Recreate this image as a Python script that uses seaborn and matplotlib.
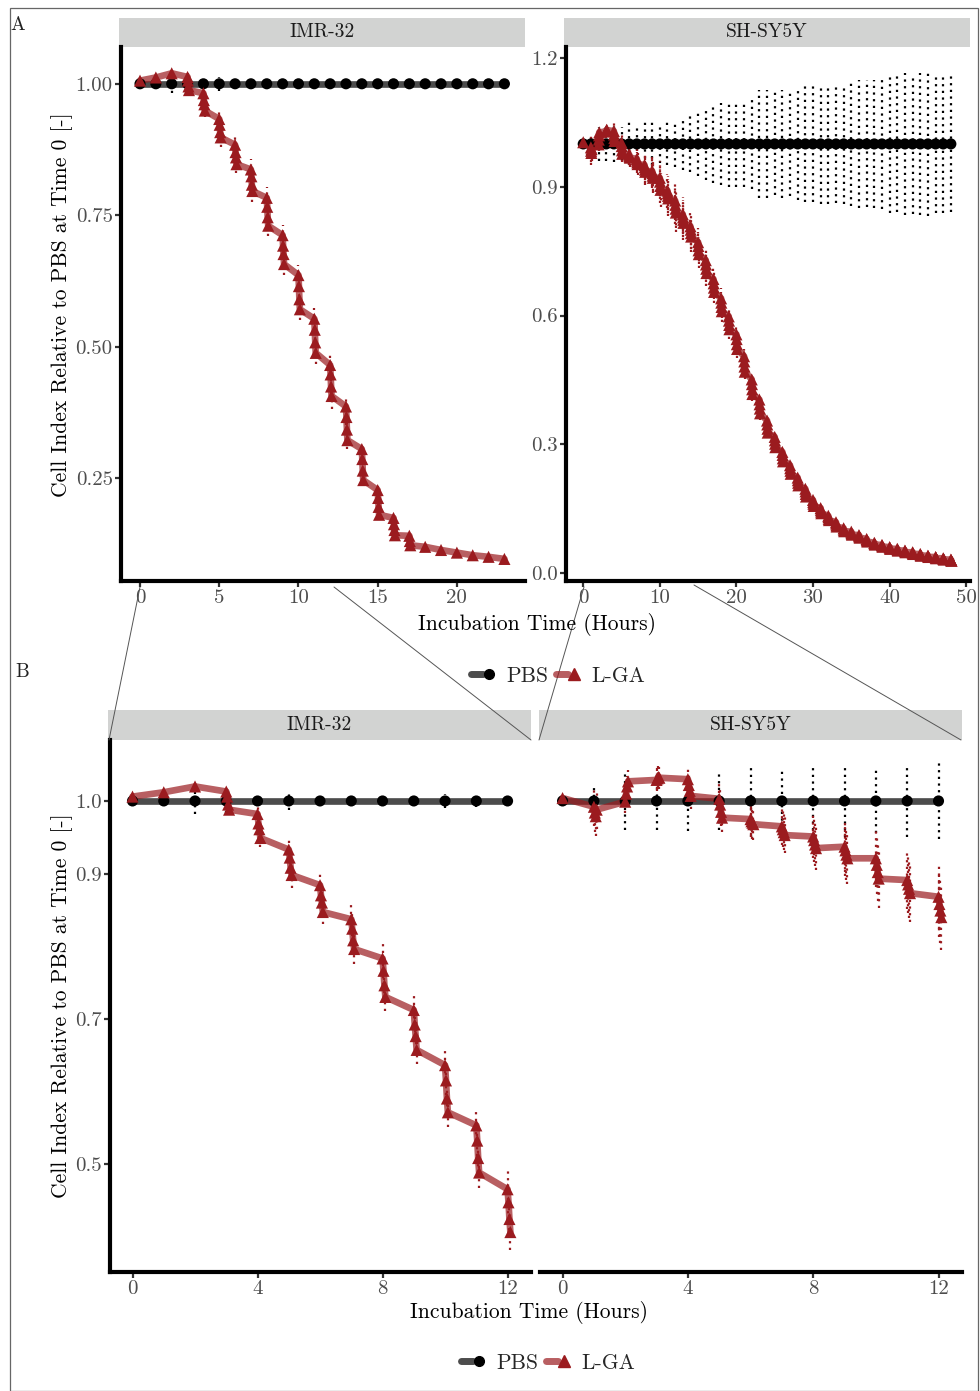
import numpy as np
import pandas as pd
import matplotlib
matplotlib.use("Agg")
import matplotlib.pyplot as plt
import seaborn as sns
from matplotlib.lines import Line2D
from matplotlib.patches import Rectangle
from matplotlib.legend_handler import HandlerTuple

# ---------------------------------------------------------------------------
# Cell index (relative to PBS at time 0); several sweeps are recorded per hour
# ---------------------------------------------------------------------------
imr_hours = list(range(24))
imr_lga = [
    [1.006], [1.012], [1.020],
    [1.013, 1.006, 0.995, 0.988],
    [0.982, 0.969, 0.961, 0.949],
    [0.933, 0.922, 0.908, 0.898],
    [0.884, 0.870, 0.860, 0.847],
    [0.837, 0.824, 0.808, 0.796],
    [0.783, 0.766, 0.746, 0.730],
    [0.712, 0.692, 0.676, 0.657],
    [0.636, 0.615, 0.590, 0.571],
    [0.553, 0.532, 0.508, 0.488],
    [0.465, 0.447, 0.424, 0.406],
    [0.386, 0.366, 0.342, 0.322],
    [0.305, 0.286, 0.264, 0.246],
    [0.227, 0.212, 0.195, 0.180],
    [0.174, 0.162, 0.151, 0.141],
    [0.140, 0.130, 0.122],
    [0.119], [0.113], [0.108], [0.103], [0.100], [0.096],
]
imr_lga_sd = [0.002, 0.004, 0.005, 0.008, 0.012, 0.018, 0.016, 0.020,
              0.020, 0.020, 0.020, 0.021, 0.025, 0.016, 0.011, 0.008,
              0.006, 0.005, 0.003, 0.003, 0.003, 0.002, 0.002, 0.002]
imr_pbs = [1.00, 1.00, 1.00, 1.00, 1.00, 1.00, 1.00, 1.00, 1.00, 1.00, 1.00, 1.00,
           1.00, 1.00, 1.00, 1.00, 1.00, 1.00, 1.00, 1.00, 1.00, 1.00, 1.00, 1.00]
imr_pbs_sd = [0.003, 0.005, 0.018, 0.017, 0.006, 0.013, 0.004, 0.003,
              0.002, 0.004, 0.010, 0.008, 0.003, 0.004, 0.006, 0.008,
              0.007, 0.008, 0.004, 0.006, 0.005, 0.006, 0.004, 0.004]

shsy_hours = list(range(49))
shsy_lga = [
    [1.004],
    [0.992, 0.984, 0.979, 0.988],
    [0.999, 1.010, 1.020, 1.027],
    [1.029, 1.031, 1.033, 1.032],
    [1.030, 1.022, 1.014, 1.007],
    [1.003, 0.995, 0.985, 0.977],
    [0.975, 0.972, 0.970, 0.968],
    [0.965, 0.961, 0.957, 0.953],
    [0.951, 0.946, 0.940, 0.935],
    [0.937, 0.932, 0.926, 0.921],
    [0.921, 0.912, 0.902, 0.893],
    [0.891, 0.885, 0.879, 0.873],
    [0.868, 0.858, 0.849, 0.840],
    [0.836, 0.829, 0.823, 0.816],
    [0.808, 0.800, 0.792, 0.784],
    [0.771, 0.762, 0.752, 0.743],
    [0.729, 0.719, 0.709, 0.699],
    [0.685, 0.675, 0.665, 0.655],
    [0.640, 0.630, 0.620, 0.610],
    [0.598, 0.588, 0.578, 0.568],
    [0.556, 0.545, 0.533, 0.522],
    [0.505, 0.493, 0.481, 0.469],
    [0.451, 0.440, 0.428, 0.417],
    [0.404, 0.393, 0.383, 0.372],
    [0.355, 0.346, 0.336, 0.327],
    [0.317, 0.309, 0.301, 0.293],
    [0.282, 0.275, 0.267, 0.260],
    [0.251, 0.244, 0.238, 0.231],
    [0.222, 0.216, 0.210, 0.204],
    [0.196, 0.190, 0.184, 0.178],
    [0.170, 0.165, 0.161, 0.156],
    [0.151, 0.147, 0.143, 0.139],
    [0.133, 0.130, 0.126, 0.123],
    [0.118, 0.115, 0.111, 0.108],
    [0.104, 0.101, 0.099, 0.097],
    [0.096, 0.093, 0.091, 0.089],
    [0.088, 0.086, 0.084, 0.082],
    [0.079, 0.077, 0.075, 0.073],
    [0.070, 0.069, 0.067, 0.066],
    [0.065, 0.064, 0.062, 0.061],
    [0.060, 0.059, 0.057, 0.056],
    [0.056, 0.055, 0.053, 0.052],
    [0.052, 0.051, 0.049, 0.048],
    [0.048, 0.047, 0.045, 0.044],
    [0.044, 0.043, 0.041, 0.040],
    [0.040, 0.039, 0.038, 0.037],
    [0.037, 0.036, 0.035, 0.034],
    [0.034, 0.033, 0.032, 0.031],
    [0.031, 0.030, 0.029, 0.028],
]
shsy_lga_sd = [0.003, 0.027, 0.015, 0.015, 0.018, 0.020, 0.022, 0.025, 0.030, 0.035,
               0.040, 0.040, 0.045, 0.040, 0.036, 0.032, 0.030, 0.027, 0.025, 0.022,
               0.020, 0.018, 0.016, 0.015, 0.013, 0.012, 0.011, 0.010, 0.009, 0.008,
               0.007, 0.006, 0.006, 0.005, 0.005, 0.004, 0.004, 0.004, 0.003, 0.003,
               0.003, 0.003, 0.003, 0.002, 0.002, 0.002, 0.002, 0.002, 0.002]
shsy_pbs = [1.00, 1.00, 1.00, 1.00, 1.00, 1.00, 1.00, 1.00, 1.00, 1.00,
            1.00, 1.00, 1.00, 1.00, 1.00, 1.00, 1.00, 1.00, 1.00, 1.00,
            1.00, 1.00, 1.00, 1.00, 1.00, 1.00, 1.00, 1.00, 1.00, 1.00,
            1.00, 1.00, 1.00, 1.00, 1.00, 1.00, 1.00, 1.00, 1.00, 1.00,
            1.00, 1.00, 1.00, 1.00, 1.00, 1.00, 1.00, 1.00, 1.00]
shsy_pbs_sd = [0.004, 0.022, 0.040, 0.040, 0.041, 0.040, 0.050, 0.046, 0.050, 0.050,
               0.044, 0.050, 0.053, 0.060, 0.065, 0.075, 0.085, 0.090, 0.095, 0.100,
               0.100, 0.100, 0.105, 0.125, 0.125, 0.120, 0.125, 0.122, 0.130, 0.135,
               0.135, 0.140, 0.140, 0.138, 0.140, 0.145, 0.150, 0.148, 0.150, 0.152,
               0.160, 0.158, 0.165, 0.163, 0.165, 0.167, 0.160, 0.160, 0.158]

SWEEP_STEP = 0.03   # hours between consecutive sweeps within one hour


def long_table(cell, hours, lga, lga_sd, pbs, pbs_sd):
    rows = []
    for h, vals, sd in zip(hours, lga, lga_sd):
        for k, v in enumerate(vals):
            rows.append((cell, "L-GA", h + k * SWEEP_STEP, v, sd))
    for h, v, sd in zip(hours, pbs, pbs_sd):
        rows.append((cell, "PBS", h, v, sd))
    return pd.DataFrame(rows, columns=["cell", "treatment", "time", "value", "sd"])


imr = long_table("IMR-32", imr_hours, imr_lga, imr_lga_sd, imr_pbs, imr_pbs_sd)
shsy = long_table("SH-SY5Y", shsy_hours, shsy_lga, shsy_lga_sd, shsy_pbs, shsy_pbs_sd)

# ---------------------------------------------------------------------------
sns.set_theme(style="white")
plt.rcParams["font.family"] = ["cmr10", "DejaVu Serif"]
plt.rcParams["axes.unicode_minus"] = False
plt.rcParams["mathtext.fontset"] = "cm"

W, H, DPI = 980, 1391, 100
fig = plt.figure(figsize=(W / DPI, H / DPI), dpi=DPI)
fig.patch.set_facecolor("white")

RED = "#9b1b1f"
palette = {"PBS": "black", "L-GA": RED}
markers = {"PBS": "o", "L-GA": "^"}
msize = {"PBS": 64, "L-GA": 76}
order = ["PBS", "L-GA"]
TICK_FS = 15
LABEL_FS = 15.5


def px_axes(x0, y0, x1, y1):
    return fig.add_axes([x0 / W, 1 - y1 / H, (x1 - x0) / W, (y1 - y0) / H])


def strip(x0, y0, x1, y1, label):
    s = px_axes(x0, y0, x1, y1)
    s.set_facecolor("#d2d3d2")
    s.set_xticks([]); s.set_yticks([])
    for sp in s.spines.values():
        sp.set_visible(False)
    s.text(0.5, 0.5, label, ha="center", va="center", fontsize=14,
           color="#1a1a1a", transform=s.transAxes)


def panel(rect, d, xlim, ylim, xticks, yticks, ylabels, show_y=True):
    ax = px_axes(*rect)
    ax.set_facecolor("white")
    # thick translucent trajectories
    sns.lineplot(data=d, x="time", y="value", hue="treatment", hue_order=order,
                 palette=palette, estimator=None, lw=4.8, alpha=0.7,
                 legend=False, ax=ax, zorder=2)
    # dotted error bars (mean +/- sd)
    for t in order:
        s = d[d.treatment == t]
        ax.vlines(s.time, s.value - s.sd, s.value + s.sd, colors=palette[t],
                  linestyles=[(0, (1, 2.0))], lw=1.6, zorder=3)
    # markers
    for t in order:
        s = d[d.treatment == t]
        sns.scatterplot(data=s, x="time", y="value", color=palette[t],
                        marker=markers[t], s=msize[t], linewidth=0,
                        edgecolor="none", legend=False, ax=ax, zorder=4)
    ax.set_xlim(*xlim)
    ax.set_ylim(*ylim)
    ax.set_xlabel("")
    ax.set_ylabel("")
    ax.set_xticks(xticks)
    ax.set_xticklabels([str(x) for x in xticks])
    for side in ("top", "right"):
        ax.spines[side].set_visible(False)
    ax.spines["bottom"].set_linewidth(3.0)
    ax.spines["bottom"].set_color("black")
    ax.tick_params(axis="both", direction="out", length=4, width=1.6,
                   color="#333333", labelcolor="#4d4d4d", labelsize=TICK_FS, pad=2,
                   bottom=True, left=show_y)
    if show_y:
        ax.spines["left"].set_linewidth(3.0)
        ax.spines["left"].set_color("black")
        ax.set_yticks(yticks)
        ax.set_yticklabels(ylabels)
    else:
        ax.spines["left"].set_visible(False)
        ax.set_yticks(yticks)
        ax.set_yticklabels([])
        ax.tick_params(axis="y", left=False)
    ax.grid(False)
    return ax


# ---- A: full time course ----
strip(119, 18, 525, 47, "IMR-32")
strip(564, 18, 970, 47, "SH-SY5Y")
axA1 = panel((121, 47, 525, 581), imr, (-1.2, 24.3), (0.054, 1.070),
             [0, 5, 10, 15, 20], [0.25, 0.50, 0.75, 1.00],
             ["0.25", "0.50", "0.75", "1.00"])
axA2 = panel((566, 47, 970, 581), shsy, (-2.25, 50.5), (-0.019, 1.226),
             [0, 10, 20, 30, 40, 50], [0.0, 0.3, 0.6, 0.9, 1.2],
             ["0.0", "0.3", "0.6", "0.9", "1.2"])

# ---- B: first 12 hours ----
strip(108, 710, 531, 740, "IMR-32")
strip(539, 710, 962, 740, "SH-SY5Y")
b_lim = (-0.72, 12.75)
b_ylim = (0.351, 1.084)
axB1 = panel((110, 740, 531, 1272), imr[imr.time < 12.5], b_lim, b_ylim,
             [0, 4, 8, 12], [0.5, 0.7, 0.9, 1.0], ["0.5", "0.7", "0.9", "1.0"])
axB2 = panel((540, 740, 962, 1272), shsy[shsy.time < 12.5], b_lim, b_ylim,
             [0, 4, 8, 12], [0.5, 0.7, 0.9, 1.0], ["0.5", "0.7", "0.9", "1.0"],
             show_y=False)

# ---- axis titles and panel tags ----
ylab = "Cell Index Relative to PBS at Time 0 [-]"
fig.text(62 / W, 1 - 305 / H, ylab, rotation=90, ha="center", va="center",
         fontsize=LABEL_FS, color="black")
fig.text(62 / W, 1 - 1006 / H, ylab, rotation=90, ha="center", va="center",
         fontsize=LABEL_FS, color="black")
fig.text(537 / W, 1 - 624 / H, "Incubation Time (Hours)", ha="center", va="center",
         fontsize=LABEL_FS, color="black")
fig.text(529 / W, 1 - 1312 / H, "Incubation Time (Hours)", ha="center", va="center",
         fontsize=LABEL_FS, color="black")
fig.text(18 / W, 1 - 25 / H, "A", ha="center", va="center", fontsize=14, color="#222222")
fig.text(22 / W, 1 - 672 / H, "B", ha="center", va="center", fontsize=14, color="#222222")

# ---- legends ----
def legend_handles():
    hp = (Line2D([], [], color="black", lw=5, alpha=0.7),
          Line2D([], [], ls="", marker="o", color="black", ms=7))
    hl = (Line2D([], [], color=RED, lw=5, alpha=0.7),
          Line2D([], [], ls="", marker="^", color=RED, ms=8))
    return [hp, hl]

for cx, cy in [(558, 676), (548, 1363)]:
    fig.legend(legend_handles(), ["PBS", "L-GA"], loc="center",
               bbox_to_anchor=(cx / W, 1 - cy / H), ncol=2, frameon=False,
               fontsize=LABEL_FS, handlelength=1.1, handletextpad=0.55,
               columnspacing=0.35, borderpad=0.0,
               handler_map={tuple: HandlerTuple(ndivide=None)})

# ---- zoom guides from A to B ----
guides = [((140, 587), (109, 740)), ((334, 587), (531, 740)),
          ((584, 587), (539, 740)), ((694, 585), (961, 740))]
for (x0, y0), (x1, y1) in guides:
    fig.add_artist(Line2D([x0 / W, x1 / W], [1 - y0 / H, 1 - y1 / H],
                          transform=fig.transFigure, color="#555555", lw=0.7))

# ---- outer frame ----
fig.add_artist(Rectangle((10 / W, 0), (978 - 10) / W, 1 - 8 / H,
                         transform=fig.transFigure, fill=False,
                         edgecolor="#666666", lw=0.9))

fig.savefig("out.png", dpi=DPI, facecolor="white")
